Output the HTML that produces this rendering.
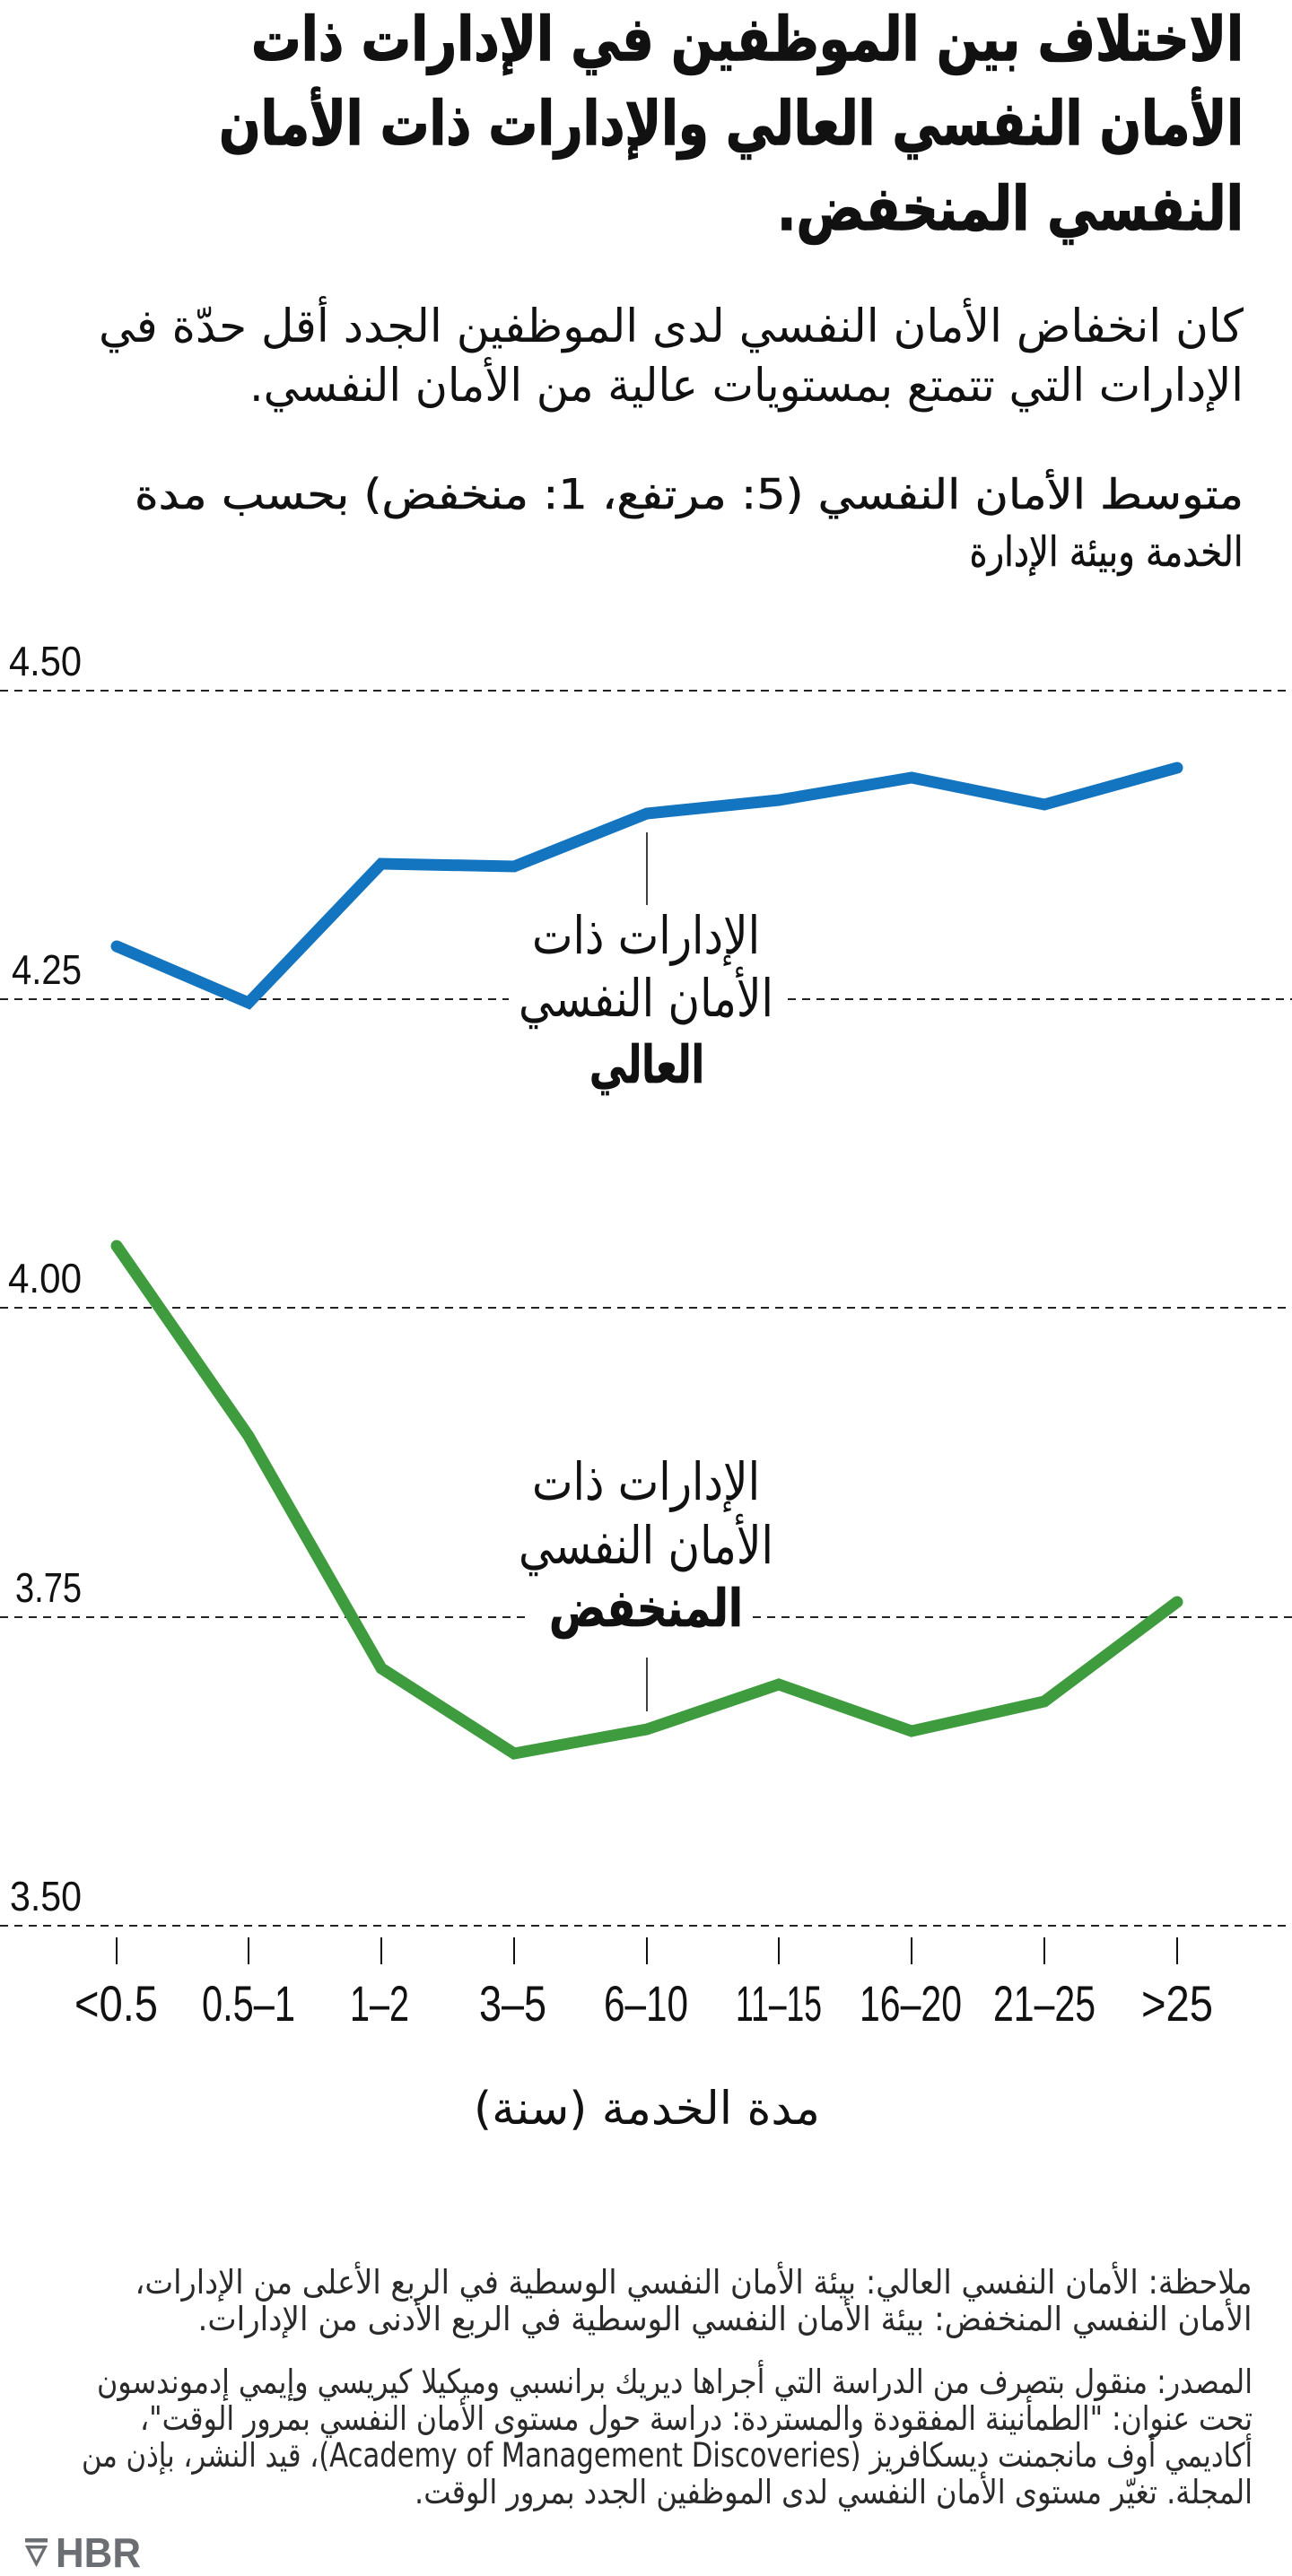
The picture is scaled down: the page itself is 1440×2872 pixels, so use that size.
<!DOCTYPE html>
<html lang="ar">
<head>
<meta charset="utf-8">
<style>
  html,body{margin:0;padding:0;background:#fff;}
  svg{display:block;}
  .ar{font-family:"DejaVu Sans","Liberation Sans",sans-serif;}
  .lat{font-family:"Liberation Sans","DejaVu Sans",sans-serif;}
</style>
</head>
<body>
<svg xmlns="http://www.w3.org/2000/svg" width="1440" height="2872" viewBox="0 0 1440 2872">
  <rect x="0" y="0" width="1440" height="2872" fill="#fff"/>

  <!-- Title -->
  <g class="ar" fill="#111" stroke="#111" stroke-width="1.4" font-weight="bold" font-size="68" direction="rtl" unicode-bidi="embed" text-anchor="middle">
    <text x="833" y="67" textLength="1106" lengthAdjust="spacingAndGlyphs">الاختلاف بين الموظفين في الإدارات ذات</text>
    <text x="815" y="161" textLength="1142" lengthAdjust="spacingAndGlyphs">الأمان النفسي العالي والإدارات ذات الأمان</text>
    <text x="1126" y="256" textLength="520" lengthAdjust="spacingAndGlyphs">النفسي المنخفض.</text>
  </g>

  <!-- Subtitle -->
  <g class="ar" fill="#111" font-size="51" direction="rtl" unicode-bidi="embed" text-anchor="middle">
    <text x="748" y="381" textLength="1276" lengthAdjust="spacingAndGlyphs">كان انخفاض الأمان النفسي لدى الموظفين الجدد أقل حدّة في</text>
    <text x="832" y="447" textLength="1108" lengthAdjust="spacingAndGlyphs">الإدارات التي تتمتع بمستويات عالية من الأمان النفسي.</text>
  </g>

  <!-- Chart label -->
  <g class="ar" fill="#111" stroke="#111" stroke-width="0.5" font-size="46" direction="rtl" unicode-bidi="embed" text-anchor="middle">
    <text x="768" y="567" textLength="1236" lengthAdjust="spacingAndGlyphs">متوسط الأمان النفسي (5: مرتفع، 1: منخفض) بحسب مدة</text>
    <text x="1233" y="631" textLength="305" lengthAdjust="spacingAndGlyphs">الخدمة وبيئة الإدارة</text>
  </g>

  <!-- Gridlines -->
  <g stroke="#222" stroke-width="2" stroke-dasharray="9 7" fill="none">
    <line x1="0" y1="770" x2="1440" y2="770"/>
    <line x1="0" y1="1114" x2="567" y2="1114"/>
    <line x1="878" y1="1114" x2="1440" y2="1114"/>
    <line x1="0" y1="1458" x2="1440" y2="1458"/>
    <line x1="0" y1="1803" x2="589" y2="1803"/>
    <line x1="839" y1="1803" x2="1440" y2="1803"/>
    <line x1="0" y1="2147" x2="1440" y2="2147"/>
  </g>

  <!-- Y labels -->
  <g class="lat" fill="#111" font-size="46" text-anchor="end">
    <text x="91" y="753" textLength="81" lengthAdjust="spacingAndGlyphs">4.50</text>
    <text x="91" y="1097" textLength="78" lengthAdjust="spacingAndGlyphs">4.25</text>
    <text x="91" y="1441" textLength="82" lengthAdjust="spacingAndGlyphs">4.00</text>
    <text x="91" y="1786" textLength="74" lengthAdjust="spacingAndGlyphs">3.75</text>
    <text x="91" y="2130" textLength="80" lengthAdjust="spacingAndGlyphs">3.50</text>
  </g>

  <!-- Series -->
  <polyline fill="none" stroke="#1374c0" stroke-width="13" stroke-linecap="round" stroke-linejoin="miter"
    points="130,1055 277,1118 425,963 573,966 721,907 868,892 1016,867 1164,897 1312,856"/>
  <polyline fill="none" stroke="#3e9c3e" stroke-width="13" stroke-linecap="round" stroke-linejoin="miter"
    points="130,1389 277,1601 425,1860 573,1955 721,1928 868,1878 1016,1930 1164,1897 1312,1786"/>

  <!-- Annotation leader lines -->
  <g stroke="#111" stroke-width="1.6">
    <line x1="721" y1="928" x2="721" y2="1009"/>
    <line x1="721" y1="1848" x2="721" y2="1908"/>
  </g>

  <!-- Annotation: high -->
  <g class="ar" fill="#111" font-size="58" direction="rtl" unicode-bidi="embed" text-anchor="middle">
    <text x="720" y="1063" textLength="254" lengthAdjust="spacingAndGlyphs">الإدارات ذات</text>
    <text x="720" y="1133" textLength="284" lengthAdjust="spacingAndGlyphs">الأمان النفسي</text>
    <text x="721" y="1207" textLength="128" lengthAdjust="spacingAndGlyphs" font-weight="bold" stroke="#111" stroke-width="0.8">العالي</text>
  </g>

  <!-- Annotation: low -->
  <g class="ar" fill="#111" font-size="58" direction="rtl" unicode-bidi="embed" text-anchor="middle">
    <text x="720" y="1672" textLength="254" lengthAdjust="spacingAndGlyphs">الإدارات ذات</text>
    <text x="720" y="1743" textLength="284" lengthAdjust="spacingAndGlyphs">الأمان النفسي</text>
    <text x="720" y="1813" textLength="216" lengthAdjust="spacingAndGlyphs" font-weight="bold" stroke="#111" stroke-width="0.8">المنخفض</text>
  </g>

  <!-- X ticks -->
  <g stroke="#111" stroke-width="2">
    <line x1="130" y1="2160" x2="130" y2="2190"/>
    <line x1="277" y1="2160" x2="277" y2="2190"/>
    <line x1="425" y1="2160" x2="425" y2="2190"/>
    <line x1="573" y1="2160" x2="573" y2="2190"/>
    <line x1="721" y1="2160" x2="721" y2="2190"/>
    <line x1="868" y1="2160" x2="868" y2="2190"/>
    <line x1="1016" y1="2160" x2="1016" y2="2190"/>
    <line x1="1164" y1="2160" x2="1164" y2="2190"/>
    <line x1="1312" y1="2160" x2="1312" y2="2190"/>
  </g>

  <!-- X labels -->
  <g class="lat" fill="#111" font-size="56" text-anchor="middle">
    <text x="129.5" y="2253" textLength="93" lengthAdjust="spacingAndGlyphs">&lt;0.5</text>
    <text x="277" y="2253" textLength="104" lengthAdjust="spacingAndGlyphs">0.5–1</text>
    <text x="423" y="2253" textLength="66" lengthAdjust="spacingAndGlyphs">1–2</text>
    <text x="571.5" y="2253" textLength="75" lengthAdjust="spacingAndGlyphs">3–5</text>
    <text x="720" y="2253" textLength="94" lengthAdjust="spacingAndGlyphs">6–10</text>
    <text x="868" y="2253" textLength="96" lengthAdjust="spacingAndGlyphs">11–15</text>
    <text x="1015" y="2253" textLength="114" lengthAdjust="spacingAndGlyphs">16–20</text>
    <text x="1164" y="2253" textLength="114" lengthAdjust="spacingAndGlyphs">21–25</text>
    <text x="1312" y="2253" textLength="80" lengthAdjust="spacingAndGlyphs">&gt;25</text>
  </g>

  <!-- X axis title -->
  <text class="ar" x="721" y="2368" fill="#111" font-size="51" direction="rtl" unicode-bidi="embed" text-anchor="middle" textLength="386" lengthAdjust="spacingAndGlyphs">مدة الخدمة (سنة)</text>

  <!-- Notes -->
  <g class="ar" fill="#2a2a2a" font-size="37" direction="rtl" unicode-bidi="embed" text-anchor="middle">
    <text x="773" y="2557" textLength="1245" lengthAdjust="spacingAndGlyphs">ملاحظة: الأمان النفسي العالي: بيئة الأمان النفسي الوسطية في الربع الأعلى من الإدارات،</text>
    <text x="808" y="2598" textLength="1175" lengthAdjust="spacingAndGlyphs">الأمان النفسي المنخفض: بيئة الأمان النفسي الوسطية في الربع الأدنى من الإدارات.</text>
    <text x="752" y="2668" textLength="1288" lengthAdjust="spacingAndGlyphs">المصدر: منقول بتصرف من الدراسة التي أجراها ديريك برانسبي وميكيلا كيريسي وإيمي إدموندسون</text>
    <text x="776" y="2709" textLength="1240" lengthAdjust="spacingAndGlyphs">تحت عنوان: "الطمأنينة المفقودة والمستردة: دراسة حول مستوى الأمان النفسي بمرور الوقت"،</text>
    <text x="743.5" y="2750" textLength="1305" lengthAdjust="spacingAndGlyphs">أكاديمي أوف مانجمنت ديسكافريز (Academy of Management Discoveries)، قيد النشر، بإذن من</text>
    <text x="929" y="2791" textLength="934" lengthAdjust="spacingAndGlyphs">المجلة. تغيّر مستوى الأمان النفسي لدى الموظفين الجدد بمرور الوقت.</text>
  </g>

  <!-- HBR logo -->
  <g fill="#6b6f73">
    <rect x="28" y="2830" width="25" height="4.5"/>
    <path d="M28,2838 L53,2838 L40.5,2862 Z M33.5,2841.5 L47.5,2841.5 L40.5,2855 Z" fill-rule="evenodd"/>
    <text class="lat" x="62" y="2862" font-size="46" font-weight="bold" textLength="95" lengthAdjust="spacingAndGlyphs">HBR</text>
  </g>
</svg>
</body>
</html>
